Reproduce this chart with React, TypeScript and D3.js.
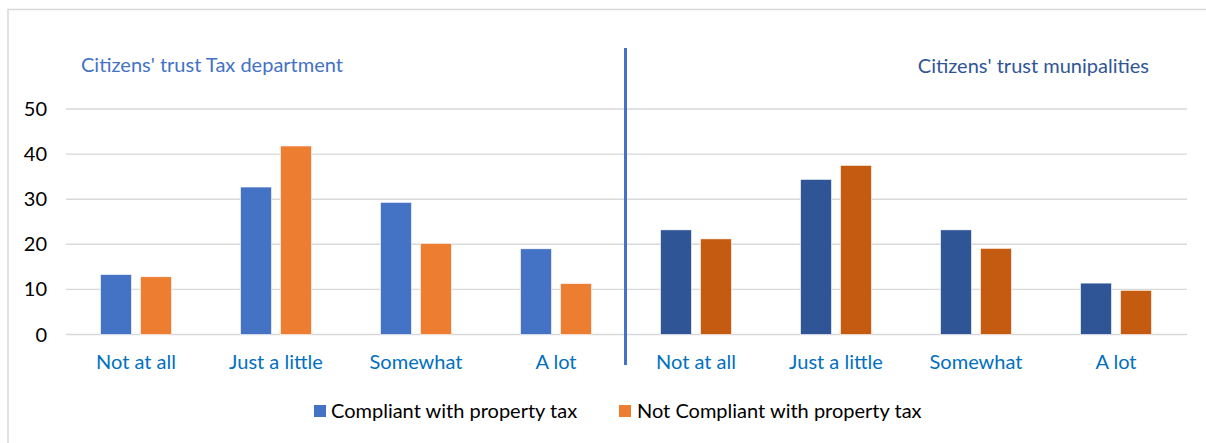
import React from "react";
import * as d3 from "d3";

const categories = ["Not at all", "Just a little", "Somewhat", "A lot"];
const taxCompliant = [13.3, 32.7, 29.3, 19.0];
const taxNotCompliant = [12.8, 41.8, 20.2, 11.3];
const muniCompliant = [23.2, 34.4, 23.2, 11.4];
const muniNotCompliant = [21.2, 37.5, 19.1, 9.8];
const yTicks = [0, 10, 20, 30, 40, 50];
const seriesNames = ["Compliant with property tax", "Not Compliant with property tax"];
const panelTitles = ["Citizens' trust Tax department", "Citizens' trust munipalities"];

const W = 1206;
const H = 443;
const FONT = "Lato, 'Open Sans', sans-serif";
const FS = 20;

type Row = { key: string; label: string; values: number[]; panel: number };

const rows: Row[] = [
  ...categories.map((c, i) => ({ key: "t" + i, label: c, values: [taxCompliant[i], taxNotCompliant[i]], panel: 0 })),
  ...categories.map((c, i) => ({ key: "m" + i, label: c, values: [muniCompliant[i], muniNotCompliant[i]], panel: 1 })),
];

const colors = [
  ["#4472C4", "#ED7D31"],
  ["#2F5597", "#C55A11"],
];

export default function App() {
  const x = d3
    .scaleBand<string>()
    .domain(rows.map((r) => r.key))
    .range([66, 1186])
    .paddingInner(0.493)
    .paddingOuter(0.2465);
  const xs = d3.scaleBand<number>().domain([0, 1]).range([0, x.bandwidth()]).paddingInner(0.225);
  const y = d3.scaleLinear().domain([0, 50]).range([334.5, 109]);

  const mid = (x(rows[3].key)! + x(rows[4].key)! + x.bandwidth()) / 2 - 0.5;

  return (
    <svg width={W} height={H} style={{ position: "absolute", left: 0, top: 0, background: "#fff" }} fontFamily={FONT}>
      <rect x={8} y={9.5} width={W} height={H} fill="#fff" stroke="#D9D9D9" strokeWidth={1.5} />
      {yTicks.map((t) => (
        <g key={t}>
          <line x1={66} x2={1187} y1={y(t)} y2={y(t)} stroke="#D9D9D9" strokeWidth={1.4} />
          <text x={47} y={y(t)} dy="0.35em" textAnchor="end" fontSize={FS} fill="#000">
            {t}
          </text>
        </g>
      ))}
      {rows.map((r) => (
        <g key={r.key}>
          {r.values.map((v, si) => (
            <rect
              key={si}
              x={x(r.key)! + xs(si)!}
              y={y(v)}
              width={xs.bandwidth()}
              height={y(0) - y(v)}
              fill={colors[r.panel][si]}
              stroke="#fff"
              strokeWidth={0.6}
            />
          ))}
          <text
            x={x(r.key)! + x.bandwidth() / 2}
            y={369}
            textAnchor="middle"
            fontSize={FS}
            fill="#0070C0"
          >
            {r.label}
          </text>
        </g>
      ))}
      <line x1={mid} x2={mid} y1={48} y2={365} stroke="#4472C4" strokeWidth={3} />
      <text x={81} y={72} fontSize={FS} fill="#4472C4">
        {panelTitles[0]}
      </text>
      <text x={1149} y={73} fontSize={FS} fill="#2F5597" textAnchor="end">
        {panelTitles[1]}
      </text>
      <g>
        <rect x={314} y={405} width={12} height={12} fill={colors[0][0]} />
        <text x={331} y={418} fontSize={FS} fill="#000">
          {seriesNames[0]}
        </text>
        <rect x={619} y={405} width={12} height={12} fill={colors[0][1]} />
        <text x={637} y={418} fontSize={FS} fill="#000">
          {seriesNames[1]}
        </text>
      </g>
    </svg>
  );
}
